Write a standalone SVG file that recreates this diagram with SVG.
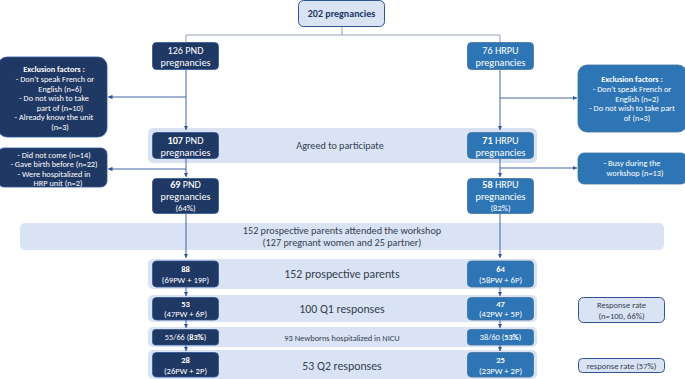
<svg xmlns="http://www.w3.org/2000/svg" width="685" height="379" viewBox="0 0 685 379">
<defs>
<marker id="ah" viewBox="0 0 6 6" refX="6" refY="3" markerWidth="4.5" markerHeight="4.5" orient="auto" markerUnits="userSpaceOnUse">
<path d="M0,0 L6,3 L0,6 z" fill="#2f5597"/>
</marker>
<style>
text{font-family:Carlito,Lato,"Liberation Sans",sans-serif;text-anchor:middle}
.dk{fill:#203864;stroke:#2f5597;stroke-width:0.8}
.bl{fill:#2e75b6;stroke:#41719c;stroke-width:0.8}
.lt{fill:#dae3f3;stroke:none}
.lb{fill:#dae3f3;stroke:#2f5597;stroke-width:1}
.w{fill:#ffffff}
.t{fill:#333f50}
.c{fill:none;stroke:#2f5597;stroke-width:0.9}
.g{fill:none;stroke:#8497b0;stroke-width:0.9}
.n{font-size:10.2px}
.s{font-size:8.3px}
.m{font-size:8.6px}
.b{font-weight:bold}
</style>
</defs>
<rect width="685" height="379" fill="#ffffff"/>
<g id="bands">
<rect class="lt" x="148" y="128" width="389" height="35" rx="5"/>
<rect class="lt" x="20" y="223" width="644" height="27" rx="5"/>
<rect class="lt" x="148" y="259" width="389" height="30" rx="5"/>
<rect class="lt" x="148" y="295" width="389" height="27" rx="5"/>
<rect class="lt" x="148" y="327" width="389" height="20" rx="5"/>
<rect class="lt" x="148" y="350" width="389" height="29" rx="5"/>
<text class="t" x="340" y="149" font-size="10.2">Agreed to participate</text>
<text class="t" x="342" y="234" font-size="10.2">152 prospective parents attended the workshop</text>
<text class="t" x="342" y="246" font-size="10.2">(127 pregnant women and 25 partner)</text>
<text class="t" x="342" y="278" font-size="11.8">152 prospective parents</text>
<text class="t" x="342" y="313" font-size="11.8">100 Q1 responses</text>
<text class="t" x="342" y="341" font-size="8.4">93 Newborns hospitalized in NICU</text>
<text class="t" x="342" y="370" font-size="11.8">53 Q2 responses</text>
</g>
<g id="connectors">
<path class="g" d="M342,27 V35 M186,42 V35 H500 V42"/>
<path class="c" d="M186,70 V130" marker-end="url(#ah)"/>
<path class="c" d="M186,97 H108" marker-end="url(#ah)"/>
<path class="c" d="M500,70 V130" marker-end="url(#ah)"/>
<path class="c" d="M500,98 H577" marker-end="url(#ah)"/>
<path class="c" d="M186,159 V177" marker-end="url(#ah)"/>
<path class="c" d="M186,169 H108" marker-end="url(#ah)"/>
<path class="c" d="M500,159 V177" marker-end="url(#ah)"/>
<path class="c" d="M500,168 H577" marker-end="url(#ah)"/>
<path class="c" d="M186,214 V258" marker-end="url(#ah)"/>
<path class="c" d="M500,214 V258" marker-end="url(#ah)"/>
<path class="c" d="M186,287 V296" marker-end="url(#ah)"/>
<path class="c" d="M500,287 V296" marker-end="url(#ah)"/>
<path class="c" d="M186,320 V328" marker-end="url(#ah)"/>
<path class="c" d="M500,320 V328" marker-end="url(#ah)"/>
<path class="c" d="M186,345 V351" marker-end="url(#ah)"/>
<path class="c" d="M500,345 V351" marker-end="url(#ah)"/>
</g>
<g id="n202">
<rect class="lb" x="298.5" y="0.5" width="86" height="26" rx="5"/>
<text x="341.5" y="17" font-size="10" font-weight="bold" fill="#203864">202 pregnancies</text>
</g>
<g id="n126">
<rect class="dk" x="152.5" y="42.5" width="66" height="27" rx="4"/>
<text class="w n" x="185.5" y="54">126 PND</text>
<text class="w n" x="185.5" y="66">pregnancies</text>
</g>
<g id="n76">
<rect class="bl" x="467.5" y="42.5" width="66" height="27" rx="4"/>
<text class="w n" x="500.5" y="54">76 HRPU</text>
<text class="w n" x="500.5" y="66">pregnancies</text>
</g>
<g id="exclL">
<rect class="dk" x="-2" y="57" width="109" height="80" rx="9"/>
<text class="w s b" x="54" y="72">Exclusion factors :</text>
<text class="w s" x="55" y="82">-    Don’t speak French or</text>
<text class="w s" x="60" y="91.5">English (n=6)</text>
<text class="w s" x="54" y="101">-    Do not wish to take</text>
<text class="w s" x="60" y="110.5">part of (n=10)</text>
<text class="w s" x="54" y="120">-   Already know the unit</text>
<text class="w s" x="60" y="129.5">(n=3)</text>
</g>
<g id="exclR">
<rect class="bl" x="578" y="65" width="109" height="67" rx="9"/>
<text class="w s b" x="632" y="82">Exclusion factors :</text>
<text class="w s" x="632" y="92">-    Don’t speak French or</text>
<text class="w s" x="637" y="101.5">English (n=2)</text>
<text class="w s" x="632" y="111">-   Do not wish to take part</text>
<text class="w s" x="637" y="120.5">of (n=3)</text>
</g>
<g id="n107">
<rect class="dk" x="152.5" y="132.5" width="66" height="26" rx="4"/>
<text class="w n" x="185.5" y="143.5"><tspan font-weight="bold">107</tspan> PND</text>
<text class="w n" x="185.5" y="155.5">pregnancies</text>
</g>
<g id="n71">
<rect class="bl" x="467.5" y="132.5" width="66" height="26" rx="4"/>
<text class="w n" x="500.5" y="143.5"><tspan font-weight="bold">71</tspan> HRPU</text>
<text class="w n" x="500.5" y="155.5">pregnancies</text>
</g>
<g id="exclL2">
<rect class="dk" x="-2" y="148" width="109" height="39" rx="6"/>
<text class="w s" x="54" y="157.5">-   Did not come (n=14)</text>
<text class="w s" x="54" y="167">-  Gave birth before (n=22)</text>
<text class="w s" x="54" y="176.5">-   Were hospitalized in</text>
<text class="w s" x="58" y="186">HRP unit (n=2)</text>
</g>
<g id="exclR2">
<rect class="bl" x="578" y="153" width="109" height="31" rx="6"/>
<text class="w s" x="632" y="166">-    Busy during the</text>
<text class="w s" x="635" y="175.5">workshop (n=13)</text>
</g>
<g id="n69">
<rect class="dk" x="152.5" y="178.5" width="66" height="35" rx="4"/>
<text class="w n" x="185.5" y="188"><tspan font-weight="bold">69</tspan> PND</text>
<text class="w n" x="185.5" y="200">pregnancies</text>
<text class="w m" x="185.5" y="211">(64%)</text>
</g>
<g id="n58">
<rect class="bl" x="467.5" y="178.5" width="66" height="35" rx="4"/>
<text class="w n" x="500.5" y="188"><tspan font-weight="bold">58</tspan> HRPU</text>
<text class="w n" x="500.5" y="200">pregnancies</text>
<text class="w m" x="500.5" y="211">(82%)</text>
</g>
<g id="n88">
<rect class="dk" x="152.5" y="261" width="66" height="26" rx="4"/>
<text class="w m b" x="185.5" y="272">88</text>
<text class="w m" x="185.5" y="283">(69PW + 19P)</text>
</g>
<g id="n64">
<rect class="bl" x="467.5" y="261" width="66" height="26" rx="4"/>
<text class="w m b" x="500.5" y="272">64</text>
<text class="w m" x="500.5" y="283">(58PW + 6P)</text>
</g>
<g id="n53">
<rect class="dk" x="152.5" y="297.5" width="66" height="22.5" rx="4"/>
<text class="w m b" x="185.5" y="307">53</text>
<text class="w m" x="185.5" y="317">(47PW + 6P)</text>
</g>
<g id="n47">
<rect class="bl" x="467.5" y="297.5" width="66" height="22.5" rx="4"/>
<text class="w m b" x="500.5" y="307">47</text>
<text class="w m" x="500.5" y="317">(42PW + 5P)</text>
</g>
<g id="rr1">
<rect class="lb" x="578.5" y="297.5" width="86" height="25" rx="5"/>
<text class="t m" x="621.5" y="308">Response rate</text>
<text class="t m" x="621.5" y="318.5">(n=100, 66%)</text>
</g>
<g id="n55">
<rect class="dk" x="152.5" y="329.5" width="66" height="15.5" rx="3"/>
<text class="w s" x="185.5" y="340">55/66 (<tspan font-weight="bold">83%</tspan>)</text>
</g>
<g id="n38">
<rect class="bl" x="467.5" y="329.5" width="66" height="15.5" rx="3"/>
<text class="w s" x="500.5" y="340">38/60 (<tspan font-weight="bold">53%</tspan>)</text>
</g>
<g id="n28">
<rect class="dk" x="152.5" y="352.5" width="66" height="24.5" rx="4"/>
<text class="w m b" x="185.5" y="363">28</text>
<text class="w m" x="185.5" y="373.5">(26PW + 2P)</text>
</g>
<g id="n25">
<rect class="bl" x="467.5" y="352.5" width="66" height="24.5" rx="4"/>
<text class="w m b" x="500.5" y="363">25</text>
<text class="w m" x="500.5" y="373.5">(23PW + 2P)</text>
</g>
<g id="rr2">
<rect class="lb" x="578.5" y="358.5" width="86" height="14" rx="4"/>
<text class="t m" x="621.5" y="368.5">response rate (57%)</text>
</g>
</svg>
